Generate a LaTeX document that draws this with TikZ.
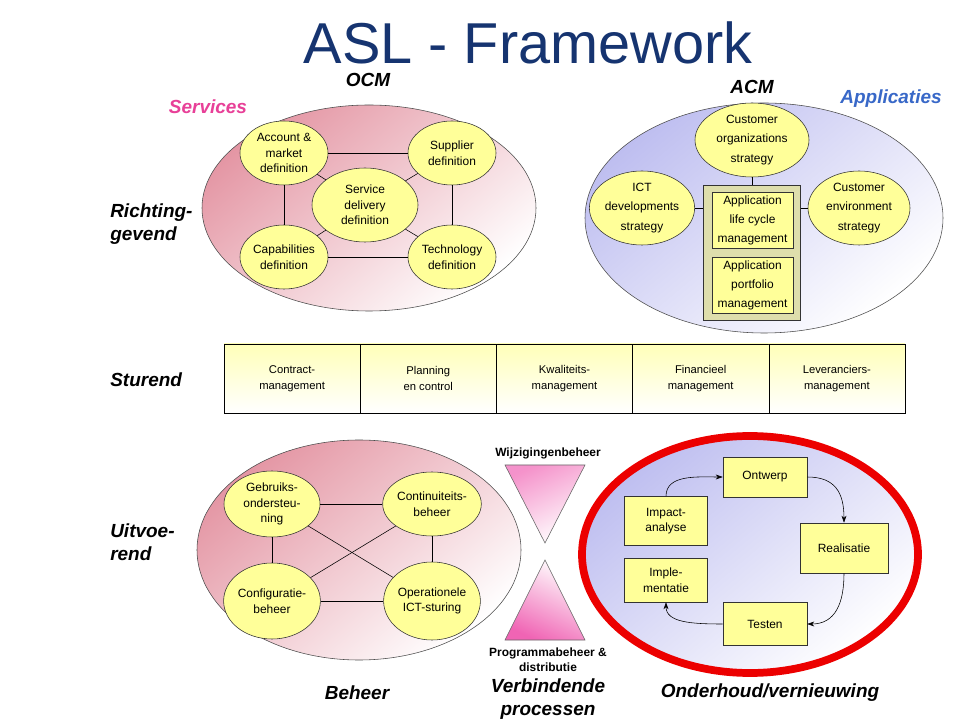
\documentclass[tikz,border=0pt]{standalone}
\usepackage{fontspec}
\setmainfont{Liberation Sans}
\usepackage{tikz}
\usetikzlibrary{shapes.geometric, arrows.meta, calc}

\definecolor{titleblue}{RGB}{22,52,112}
\definecolor{ocmpink}{RGB}{228,150,164}
\definecolor{acmblue}{RGB}{190,190,240}
\definecolor{lightyel}{RGB}{255,255,153}
\definecolor{rowyel}{RGB}{255,255,185}
\definecolor{khaki}{RGB}{222,222,172}
\definecolor{tripink}{RGB}{240,100,180}
\definecolor{srvpink}{RGB}{232,64,152}
\definecolor{aplblue}{RGB}{56,104,200}
\definecolor{ringred}{RGB}{236,0,0}

\begin{document}
\begin{tikzpicture}[x=0.025cm, y=-0.025cm,
    ovl/.style 2 args={ellipse, draw=black!80, fill=lightyel, inner sep=0pt, align=center,
        minimum width=#1*0.025cm, minimum height=#2*0.025cm, font=\fontsize{8.5}{11}\selectfont},
    box/.style 2 args={rectangle, draw=black!80, fill=lightyel, inner sep=0pt, align=center,
        minimum width=#1*0.025cm, minimum height=#2*0.025cm, font=\fontsize{8.5}{11}\selectfont},
    rowbox/.style={rectangle, draw=black, top color=rowyel, bottom color=white, inner sep=0pt,
        align=center, minimum width=136.2*0.025cm, minimum height=69*0.025cm,
        font=\fontsize{8}{11.3}\selectfont},
    lab/.style={font=\fontsize{13.5}{16}\bfseries\itshape\selectfont, align=center, inner sep=0pt},
    sublab/.style={font=\fontsize{8.5}{10.6}\bfseries\selectfont, align=center, inner sep=0pt},
    arr/.style={-{Stealth[length=5pt,width=3.5pt]}, black, thin}]
\useasboundingbox[fill=white] (0,0) rectangle (960,720);

% title and headings
\node[font=\fontsize{41}{43}\selectfont, text=titleblue, anchor=base, inner sep=0pt] (ttl) at (528,64) {ASL - Framework};
\node[lab] (ocm) at (368,80) {OCM};
\node[lab, text=srvpink] (srv) at (208,107) {Services};
\node[lab] (acm) at (752,87) {ACM};
\node[lab, text=aplblue] (apl) at (891,99) {Applicaties};
\node[lab, anchor=west, align=left] (ric) at (110,224) {Richting-\\gevend};
\node[lab, anchor=west, align=left] (stu) at (110,380) {Sturend};
\node[lab, anchor=west, align=left] (uit) at (110,542) {Uitvoe-\\rend};

% OCM
\draw[black!70, top color=ocmpink, bottom color=white, shading angle=40] (369,208) ellipse [x radius=167, y radius=103];
\node[ovl={106}{74}] (sdd) at (365,205) {Service\\delivery\\definition};
\node[ovl={88}{64}] (acc) at (284,153) {Account \&\\market\\definition};
\node[ovl={88}{64}] (sup) at (452,153) {Supplier\\definition};
\node[ovl={88}{64}] (cap) at (284,257) {Capabilities\\definition};
\node[ovl={88}{64}] (tec) at (452,257) {Technology\\definition};
\draw (acc)--(sup);
\draw (acc)--(cap);
\draw (sup)--(tec);
\draw (cap)--(tec);
\draw (acc)--(sdd);
\draw (sup)--(sdd);
\draw (cap)--(sdd);
\draw (tec)--(sdd);

% ACM
\draw[black!70, top color=acmblue, bottom color=white, shading angle=40] (764,218) ellipse [x radius=179, y radius=115];
\node[ovl={114}{74}, font=\fontsize{8.5}{14}\selectfont] (cos) at (752,140) {Customer\\organizations\\strategy};
\node[ovl={100}{74}, font=\fontsize{8.5}{14}\selectfont] (ict) at (642,208) {ICT\\developments\\strategy};
\node[ovl={102}{74}, font=\fontsize{8.5}{14}\selectfont] (ces) at (859,208) {Customer\\environment\\strategy};
\node[rectangle, draw=black!80, fill=khaki, minimum width=97*0.025cm, minimum height=135*0.025cm] (apm) at (752,252.5) {};
\node[box={81}{56}, font=\fontsize{8.5}{13.5}\selectfont] (alc) at (752.5,220) {Application\\life cycle\\management};
\node[box={81}{56}, font=\fontsize{8.5}{13.5}\selectfont] (apf) at (752.5,285) {Application\\portfolio\\management};
\draw (cos)--(apm);
\draw (ict.east)--(ict.east -| apm.west);
\draw (ces.west)--(ces.west -| apm.east);

% Sturend row
\node[rowbox] (cm) at (292.1,378.5) {Contract-\\management};
\node[rowbox] (pc) at (428.3,378.5) {Planning\\en control};
\node[rowbox] (km) at (564.5,378.5) {Kwaliteits-\\management};
\node[rowbox] (fm) at (700.7,378.5) {Financieel\\management};
\node[rowbox] (lm) at (836.9,378.5) {Leveranciers-\\management};

% Beheer
\draw[black!70, top color=ocmpink, bottom color=white, shading angle=40] (359,550) ellipse [x radius=162, y radius=110];
\node[ovl={96}{66}] (geb) at (272,504) {Gebruiks-\\ondersteu-\\ning};
\node[ovl={96}{64}] (con) at (432,504) {Continuiteits-\\beheer};
\node[ovl={96}{76}] (cfg) at (272,601) {Configuratie-\\beheer};
\node[ovl={96}{78}] (ops) at (432,601) {Operationele\\ICT-sturing};
\draw (geb)--(con);
\draw (geb)--(cfg);
\draw (con)--(ops);
\draw (cfg)--(ops);
\draw (geb)--(ops);
\draw (con)--(cfg);
\node[lab] (beh) at (357,693) {Beheer};

% Verbindende processen
\draw[black!60, top color=tripink!70, bottom color=white, shading angle=25] (505,465) -- (585,465) -- (545,543) -- cycle;
\draw[black!60, top color=white, bottom color=tripink, shading angle=-25] (545,560) -- (585,640) -- (505,640) -- cycle;
\node[sublab] (wzb) at (548,453) {Wijzigingenbeheer};
\node[sublab] (pbd) at (548,660) {Programmabeheer \&\\distributie};
\node[lab] (vbp) at (548,699) {Verbindende\\processen};

% Onderhoud/vernieuwing
\draw[ringred, line width=5.5pt, top color=acmblue, bottom color=white, shading angle=40] (750,554.5) ellipse [x radius=168, y radius=118.5];
\node[box={84}{40}] (ont) at (765,477) {Ontwerp};
\node[box={83}{49}] (imp) at (666,521) {Impact-\\analyse};
\node[box={88}{50}] (rea) at (844,548) {Realisatie};
\node[box={83}{44}] (imm) at (666,580) {Imple-\\mentatie};
\node[box={84}{43}] (tes) at (765,624) {Testen};
\draw[arr] (imp.north) .. controls +(0,-22) and +(-25,0) .. (ont.west);
\draw[arr] (ont.east) .. controls +(28,0) and +(0,-30) .. (rea.north);
\draw[arr] (rea.south) .. controls +(0,30) and +(28,0) .. (tes.east);
\draw[arr] (tes.west) .. controls +(-32,0) and +(0,20) .. (imm.south);
\node[lab] (ond) at (770,693) {Onderhoud/vernieuwing};

\end{tikzpicture}
\end{document}
